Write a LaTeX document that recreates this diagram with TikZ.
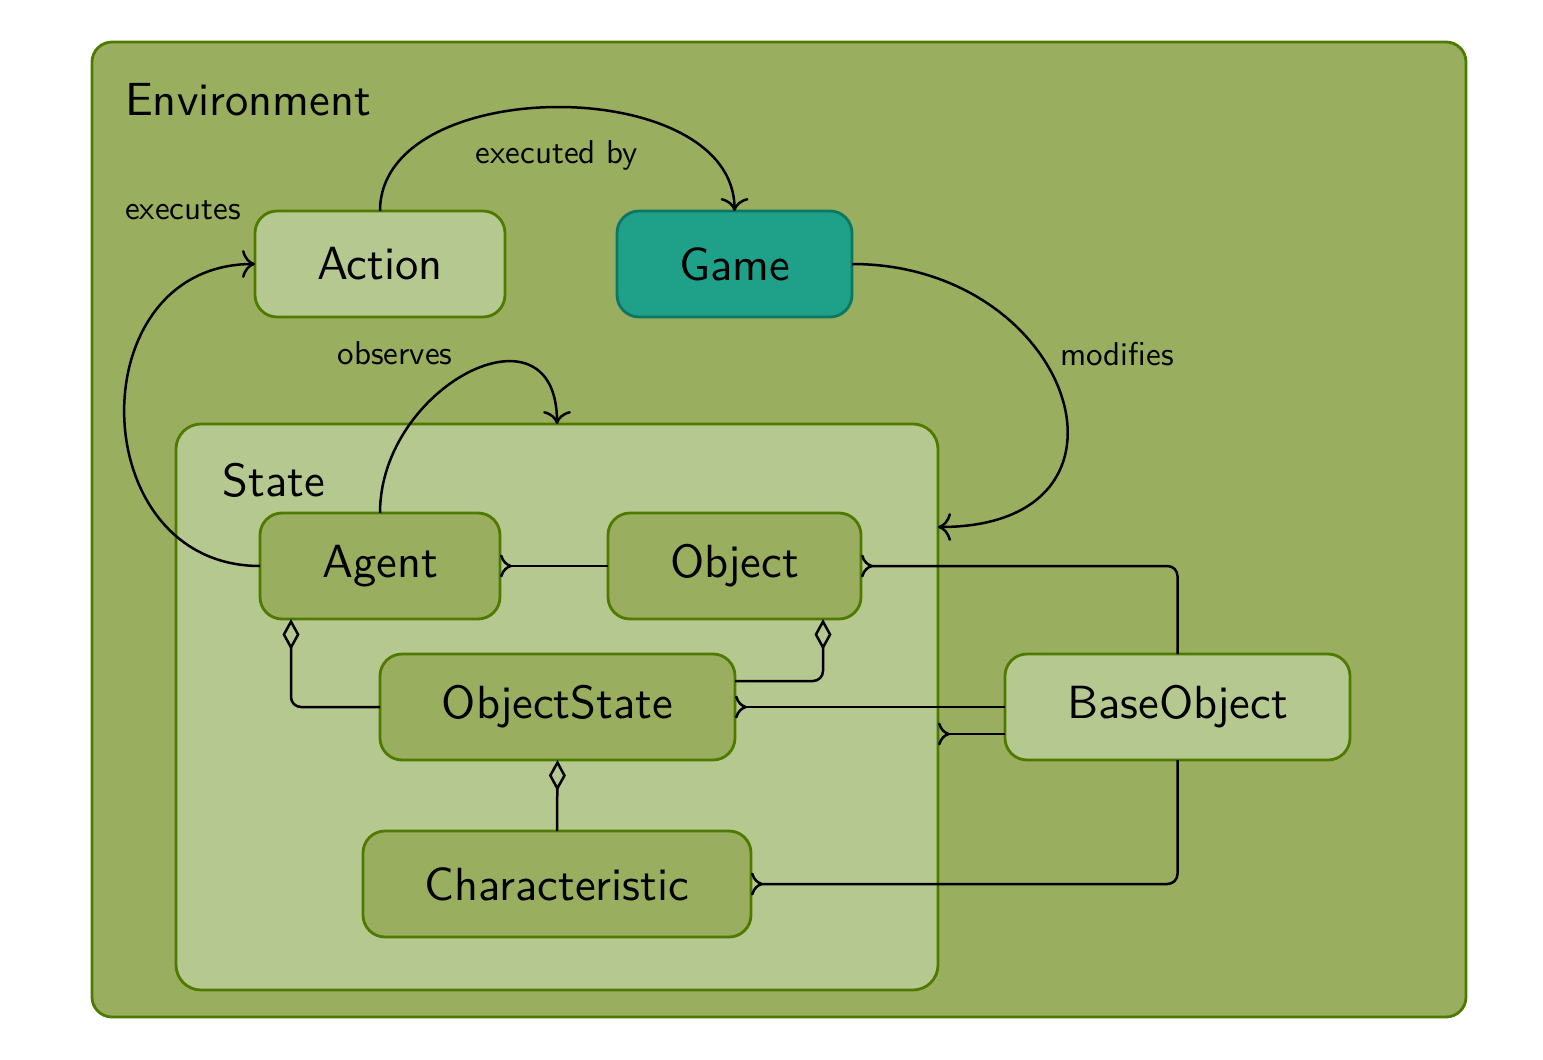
\documentclass[tikz,border=0pt]{standalone}
\usepackage{fontspec}
\newfontfamily\lmsx{lmsans10-regular.otf}
\usetikzlibrary{arrows.meta}
\definecolor{envfill}{HTML}{99AE5F}
\definecolor{lightfill}{HTML}{B5C88F}
\definecolor{bordergreen}{HTML}{4E7A00}
\definecolor{gamefill}{HTML}{1FA088}
\definecolor{gameborder}{HTML}{0A7862}
\tikzset{
 box/.style={draw=bordergreen, line width=2.8pt, rounded corners=22pt, inner sep=0pt, outer sep=0pt, minimum height=106pt, font=\lmsx\fontsize{46.5}{56}\selectfont, text=black},
 lightbox/.style={box, fill=lightfill},
 midbox/.style={box, fill=envfill},
 gamebox/.style={box, fill=gamefill, draw=gameborder},
 container/.style={draw=bordergreen, line width=2.8pt, inner sep=0pt, outer sep=0pt},
 titletext/.style={font=\lmsx\fontsize{46.5}{56}\selectfont, inner sep=0pt},
 lbl/.style={font=\lmsx\fontsize{33}{40}\selectfont, inner sep=0pt},
 conn/.style={draw=black, line width=2.5pt},
 flow/.style={conn, -{Computer Modern Rightarrow[length=13pt,width=28pt]}},
 crow/.style={conn, -{Computer Modern Rightarrow[reversed,length=12pt,width=23pt]}},
 agg/.style={conn, -{Diamond[open,length=31pt,width=17pt]}},
}
\begin{document}
\begin{tikzpicture}[x=1pt,y=-1pt]
\useasboundingbox (0,0) rectangle (1543,1060);
% containers
\node[container, fill=envfill, rounded corners=20pt, minimum width=1374pt, minimum height=975pt] (env) at (779,529.5) {};
\node[titletext, anchor=west] (envtitle) at (125,100) {Environment};
\node[container, fill=lightfill, rounded corners=25pt, minimum width=762pt, minimum height=566pt] (state) at (557,707) {};
\node[titletext] (statetitle) at (274,480) {State};
% boxes
\node[lightbox, minimum width=250pt] (action) at (380,264) {Action};
\node[gamebox, minimum width=235pt] (game) at (734.5,264) {Game};
\node[midbox, minimum width=240pt] (agent) at (380,566) {Agent};
\node[midbox, minimum width=253pt] (object) at (734.5,566) {Object};
\node[midbox, minimum width=355pt] (objstate) at (557.5,707) {ObjectState};
\node[midbox, minimum width=388pt] (charac) at (557,884) {Characteristic};
\node[lightbox, minimum width=345pt] (baseobj) at (1177.5,707) {BaseObject};
% labels
\node[lbl] (lexecby) at (557,155) {executed by};
\node[lbl] (lmodifies) at (1117,354) {modifies};
\node[lbl] (lexecutes) at (183,210) {executes};
\node[lbl] (lobserves) at (395,353) {observes};
% curved relations
\draw[flow] (action.north) to[out=90,in=90,looseness=1.0] (game.north);
\draw[flow] (game.east) to[out=0,in=0,looseness=2.05] ([yshift=180pt]state.east);
\draw[flow] (agent.west) to[out=180,in=180,looseness=1.5] (action.west);
\draw[flow] (agent.north) to[out=90,in=90,looseness=1.65] (state.north);
% ER relations
\draw[crow] (object.west) -- (agent.east);
\draw[crow, rounded corners=10pt] (baseobj.north) |- (object.east);
\draw[agg, rounded corners=10pt] (objstate.west) -| ([xshift=-89pt]agent.south);
\draw[agg, rounded corners=10pt] ([yshift=26pt]objstate.east) -| ([xshift=88.5pt]object.south);
\draw[crow] (baseobj.west) -- (objstate.east);
\coordinate (bslow) at ([yshift=-27pt]baseobj.west);
\draw[crow] (bslow) -- (bslow -| state.east);
\draw[crow, rounded corners=10pt] (baseobj.south) |- (charac.east);
\draw[agg] (charac.north) -- (objstate.south);
\end{tikzpicture}
\end{document}
